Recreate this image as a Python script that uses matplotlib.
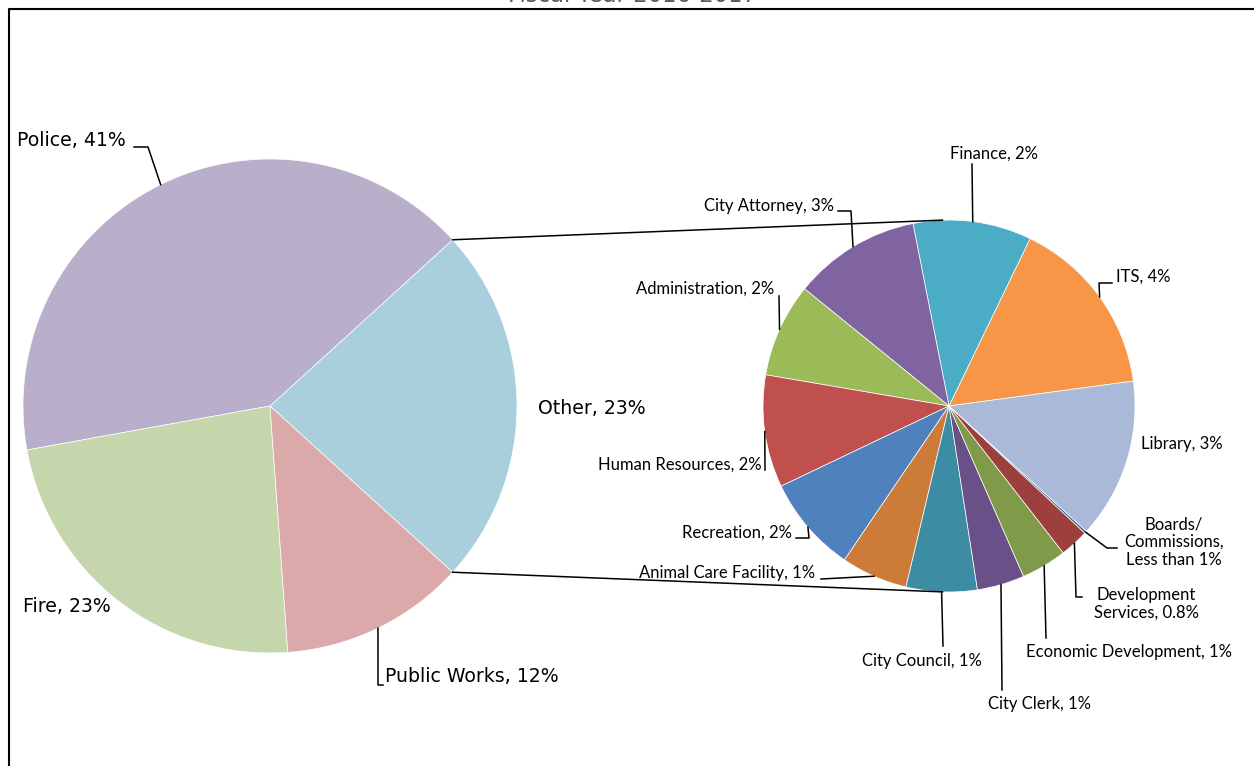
"""Pie-of-pie chart of the city budget by department."""

import matplotlib.pyplot as plt
import numpy as np

W, H = 1254, 766

# main pie (share of total budget, %)
main_labels = ["Other", "Police", "Fire", "Public Works"]
main_values = [23.5, 41.1, 23.3, 12.1]
main_pct = ["23%", "41%", "23%", "12%"]
main_colors = ["#A9CFDC", "#B9AFCA", "#C5D6AC", "#DBA9A9"]

# "Other" broken down (share of total budget, %)
sub_labels = [
    "ITS", "Finance", "City Attorney", "Administration", "Human Resources",
    "Recreation", "Animal Care Facility", "City Council", "City Clerk",
    "Economic Development", "Development Services", "Boards/Commissions",
    "Library",
]
sub_values = [3.69, 2.42, 2.60, 1.92, 2.30, 1.98, 1.36, 1.45, 0.97, 0.93, 0.59, 0.05, 3.27]
sub_pct = ["4%", "2%", "3%", "2%", "2%", "2%", "1%", "1%", "1%", "1%", "0.8%",
           "Less than 1%", "3%"]
sub_colors = [
    "#F79646", "#4BACC6", "#8064A2", "#9BBB59", "#C0504D", "#4F81BD",
    "#CC7B38", "#3C8DA3", "#6A5088", "#7F9A48", "#9D403D", "#446795",
    "#A9B9D7",
]
line_breaks = {
    "Boards/Commissions": "Boards/\nCommissions,\n{}",
    "Development Services": "Development\nServices, {}",
}


def py(y):
    """Pixel row (from top) to data y."""
    return H - y


# label placement in pixels: text x, text y, ha, leader waypoints after the wedge edge
main_layout = {
    "Police": (17, 141, "left", [(148, 147), (134, 147)]),
    "Other": (538, 408, "left", []),
    "Fire": (23, 606, "left", []),
    "Public Works": (385, 677, "left", [(378, 685), (383, 685)]),
}
sub_layout = {
    "ITS": (1116, 277, "left", [(1099, 283), (1112, 283)]),
    "Finance": (994, 154, "center", [(972, 164)]),
    "City Attorney": (834, 206, "right", [(851, 211), (838, 211)]),
    "Administration": (774, 289, "right", [(779, 296)]),
    "Human Resources": (762, 465, "right", [(765, 470)]),
    "Recreation": (792, 533, "right", [(809, 538), (796, 538)]),
    "Animal Care Facility": (815, 573, "right", [(821, 579)]),
    "City Council": (922, 661, "center", [(943, 646)]),
    "City Clerk": (1040, 704, "center", [(1002, 690)]),
    "Economic Development": (1129, 652, "center", [(1046, 638)]),
    "Development Services": (1146, 604, "center", [(1076, 597), (1082, 597)]),
    "Boards/Commissions": (1174, 542, "center", [(1107, 548), (1117, 548)]),
    "Library": (1182, 444, "center", []),
}


def edge_point(w, frac=0.5):
    ang = np.deg2rad(w.theta1 + (w.theta2 - w.theta1) * frac)
    return w.center[0] + w.r * np.cos(ang), w.center[1] + w.r * np.sin(ang)


def draw_labels(ax, wedges, labels, pcts, layout, font, size):
    for w, name, pct in zip(wedges, labels, pcts):
        tx, ty, ha, path = layout[name]
        text = line_breaks.get(name, name + ", {}").format(pct)
        ax.text(tx, py(ty), text, ha=ha, va="center", family=font,
                fontsize=size, color="black", linespacing=1.15)
        if path:
            x0, y0 = edge_point(w)
            xs = [x0] + [p[0] for p in path]
            ys = [y0] + [py(p[1]) for p in path]
            ax.plot(xs, ys, color="black", linewidth=1.1, zorder=3)


fig = plt.figure(figsize=(W / 100, H / 100), dpi=100)
ax = fig.add_axes([0, 0, 1, 1])

wedge_style = dict(edgecolor="white", linewidth=0.5)
main_wedges, _ = ax.pie(main_values, colors=main_colors, startangle=-42.3,
                        center=(270, py(406)), radius=247, wedgeprops=wedge_style)
sub_wedges, _ = ax.pie(sub_values, colors=sub_colors, startangle=7.7,
                       center=(949, py(406)), radius=186, wedgeprops=wedge_style)

# connector lines from "Other" wedge to the breakdown pie
other = main_wedges[0]
sub_c, sub_r = sub_wedges[0].center, sub_wedges[0].r
for frac, ang in ((1.0, 92), (0.0, 268)):
    x0, y0 = edge_point(other, frac)
    x1 = sub_c[0] + sub_r * np.cos(np.deg2rad(ang))
    y1 = sub_c[1] + sub_r * np.sin(np.deg2rad(ang))
    ax.plot([x0, x1], [y0, y1], color="black", linewidth=1.1, zorder=3)

draw_labels(ax, main_wedges, main_labels, main_pct, main_layout, "DejaVu Sans", 13.6)
draw_labels(ax, sub_wedges, sub_labels, sub_pct, sub_layout, "Lato", 12)

# chart frame and title (the top of the chart is cut off, as in the source)
ax.plot([9, 9, W + 20], [-20, py(9), py(9)], color="black", linewidth=1.5)
ax.text(633, py(1.5), "Fiscal Year 2016-2017", ha="center", va="baseline",
        family="DejaVu Sans", fontsize=16.4, color="#595959")

ax.set_xlim(0, W)
ax.set_ylim(0, H)
ax.set_aspect("auto")
ax.axis("off")

fig.savefig("out.png", dpi=100)
